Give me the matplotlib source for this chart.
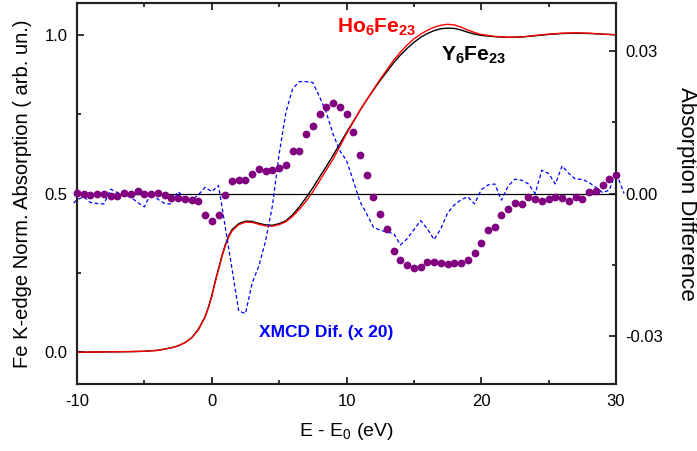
import matplotlib
matplotlib.use("Agg")
matplotlib.rcParams.update({
    'font.family': 'Liberation Sans',
    'mathtext.fontset': 'custom',
    'mathtext.rm': 'Liberation Sans',
    'mathtext.bf': 'Liberation Sans:bold',
    'axes.unicode_minus': False,
})
import matplotlib.pyplot as plt
import numpy as np

# normalized Fe K-edge absorption
e_abs = [-10, -8, -6, -5, -4, -3.5, -3, -2.5, -2, -1.5, -1, -0.5, -0.25, 0, 0.25, 0.5,
         0.75, 1.0, 1.25, 1.5, 2.0, 2.5, 3.0, 3.5, 4.0, 4.5, 5.0, 5.5, 6.0, 6.5, 7.0,
         7.5, 8.0, 8.5, 9.0, 9.5, 10.0, 10.5, 11.0, 11.5, 12.0, 12.5, 13.0, 13.5, 14.0,
         14.5, 15.0, 15.5, 16.0, 16.5, 17.0, 17.5, 18.0, 18.5, 19.0, 19.5, 20.0, 21, 22,
         23, 24, 25, 26, 27, 28, 29, 30]
ho6fe23 = [0.000, 0.001, 0.002, 0.003, 0.006, 0.010, 0.014, 0.020, 0.030, 0.045, 0.070,
           0.110, 0.140, 0.175, 0.220, 0.260, 0.300, 0.335, 0.362, 0.382, 0.402, 0.410,
           0.409, 0.403, 0.398, 0.397, 0.402, 0.411, 0.428, 0.450, 0.476, 0.505, 0.540,
           0.574, 0.608, 0.648, 0.688, 0.725, 0.762, 0.795, 0.828, 0.860, 0.890, 0.920,
           0.945, 0.968, 0.987, 1.002, 1.014, 1.024, 1.030, 1.033, 1.031, 1.024, 1.015,
           1.007, 1.001, 0.995, 0.992, 0.993, 0.998, 1.002, 1.005, 1.006, 1.005, 1.002,
           1.000]
y6fe23 = [0.000, 0.001, 0.002, 0.003, 0.006, 0.010, 0.014, 0.020, 0.030, 0.045, 0.072,
          0.112, 0.142, 0.178, 0.223, 0.263, 0.303, 0.338, 0.366, 0.386, 0.405, 0.413,
          0.412, 0.406, 0.401, 0.400, 0.405, 0.414, 0.433, 0.458, 0.487, 0.518, 0.552,
          0.585, 0.620, 0.656, 0.692, 0.727, 0.762, 0.795, 0.826, 0.856, 0.884, 0.912,
          0.936, 0.957, 0.976, 0.992, 1.004, 1.013, 1.019, 1.021, 1.020, 1.015, 1.008,
          1.002, 0.998, 0.994, 0.992, 0.993, 0.997, 1.001, 1.004, 1.005, 1.004, 1.002,
          1.000]

# absorption difference, one point every 0.5 eV from -10 to 30
e_dif = np.arange(-10, 30.01, 0.5)
dif = [0.0001, -0.0001, -0.0003, -0.0001, -0.0001, -0.0005, -0.0005, 0.0001, -0.0001,
       0.0005, -0.0001, -0.0002, 0.0001, -0.0003, -0.0009, -0.0009, -0.0012, -0.0014,
       -0.0016, -0.0045, -0.0057, -0.0045, -0.0003, 0.0027, 0.0029, 0.0029, 0.0041,
       0.0051, 0.0048, 0.0049, 0.0053, 0.0060, 0.0090, 0.0090, 0.0125, 0.0141, 0.0166,
       0.0182, 0.0189, 0.0182, 0.0167, 0.0130, 0.0081, 0.0039, -0.0007, -0.0043, -0.0074,
       -0.0121, -0.0139, -0.0150, -0.0156, -0.0155, -0.0143, -0.0143, -0.0146, -0.0147,
       -0.0146, -0.0145, -0.0140, -0.0124, -0.0104, -0.0076, -0.0071, -0.0045, -0.0032,
       -0.0020, -0.0022, -0.0008, -0.0011, -0.0015, -0.0012, -0.0008, -0.0009, -0.0015,
       -0.0008, -0.0011, 0.0003, 0.0006, 0.0018, 0.0031, 0.0039]

# XMCD difference (x 20)
e_xmcd = np.concatenate([[-10.25], np.arange(-10, 30.01, 0.5), [30.6]])
xmcd = [-0.0020, -0.0013, -0.0007, -0.0019, -0.0021, -0.0022, 0.0009, 0.0002, -0.0003,
        -0.0008, -0.0019, -0.0028, 0.0002, -0.0012, -0.0021, -0.0022, 0.0004, -0.0009,
        -0.0014, -0.0003, 0.0013, 0.0004, 0.0017, -0.0070, -0.0158, -0.0247, -0.0252,
        -0.0188, -0.0152, -0.0099, -0.0026, 0.0083, 0.0170, 0.0220, 0.0235, 0.0235,
        0.0233, 0.0203, 0.0170, 0.0125, 0.0090, 0.0069, 0.0027, -0.0017, -0.0043,
        -0.0071, -0.0077, -0.0081, -0.0084, -0.0108, -0.0095, -0.0076, -0.0057, -0.0074,
        -0.0097, -0.0074, -0.0041, -0.0024, -0.0013, -0.0007, -0.0022, 0.0008, 0.0018,
        0.0020, -0.0014, 0.0016, 0.0030, 0.0028, 0.0020, 0.0000, 0.0049, 0.0042, 0.0020,
        0.0058, 0.0042, 0.0030, 0.0030, 0.0023, 0.0013, 0.0002, 0.0007, 0.0044, 0.0000]

fig = plt.figure(figsize=(6.97, 4.51), dpi=100)
ax = fig.add_axes([0.1105, 0.1486, 0.7733, 0.8447])
ax2 = ax.twinx()

ax.plot(e_abs, y6fe23, color='black', lw=1.0)
ax.plot(e_abs, ho6fe23, color='red', lw=1.0)

ax2.axhline(0, color='black', lw=0.9)
ax2.plot(e_xmcd, xmcd, color='blue', lw=0.9, ls=(0, (3, 2)), clip_on=False)
ax2.plot(e_dif, dif, 'o', color='purple', ms=5.6, mec='none', clip_on=False, zorder=5)

ax.set_xlim(-10, 30)
ax.set_ylim(-0.1, 1.1)
ax2.set_ylim(-0.04, 0.04)

ax.set_xticks([-10, 0, 10, 20, 30])
ax.set_xticks([-5, 5, 15, 25], minor=True)
ax.set_yticks([0.0, 0.5, 1.0])
ax.set_yticks([0.25, 0.75], minor=True)
ax.set_yticklabels(['0.0', '0.5', '1.0'])
ax2.set_yticks([-0.03, 0.0, 0.03])
ax2.set_yticks([-0.015, 0.015], minor=True)
ax2.set_yticklabels(['-0.03', '0.00', '0.03'])

ax.tick_params(which='both', direction='in', top=True, labelsize=12, width=1.3, colors='#222222')
ax.tick_params(axis='both', which='major', length=5, pad=7)
ax.tick_params(which='minor', length=3)
ax.tick_params(axis='x', labelcolor='black')
ax.tick_params(axis='y', labelcolor='black')
ax2.tick_params(which='both', direction='in', labelsize=12, width=1.3, colors='#222222', labelcolor='black')
ax2.tick_params(which='major', length=5, pad=7)
ax2.tick_params(which='minor', length=3)
for a in (ax, ax2):
    for s in a.spines.values():
        s.set_linewidth(1.5)
        s.set_color('#222222')

ax.set_xlabel('E - E$_0$ (eV)', fontsize=14, labelpad=9)
ax.set_ylabel('Fe K-edge Norm. Absorption ( arb. un.)', fontsize=14.5, labelpad=9)
ax2.set_ylabel('Absorption Difference', fontsize=16, rotation=270, labelpad=24)

ax.text(12.2, 1.007, r'$\mathbf{Ho_6Fe_{23}}$', color='red', fontsize=15, ha='center', va='baseline')
ax.text(19.45, 0.919, r'$\mathbf{Y_6Fe_{23}}$', color='black', fontsize=15, ha='center', va='baseline')
ax.text(8.5, 0.061, 'XMCD Dif. (x 20)', color='blue', fontsize=12.5, fontweight='bold', ha='center', va='center')

plt.savefig('out.png', dpi=100)
